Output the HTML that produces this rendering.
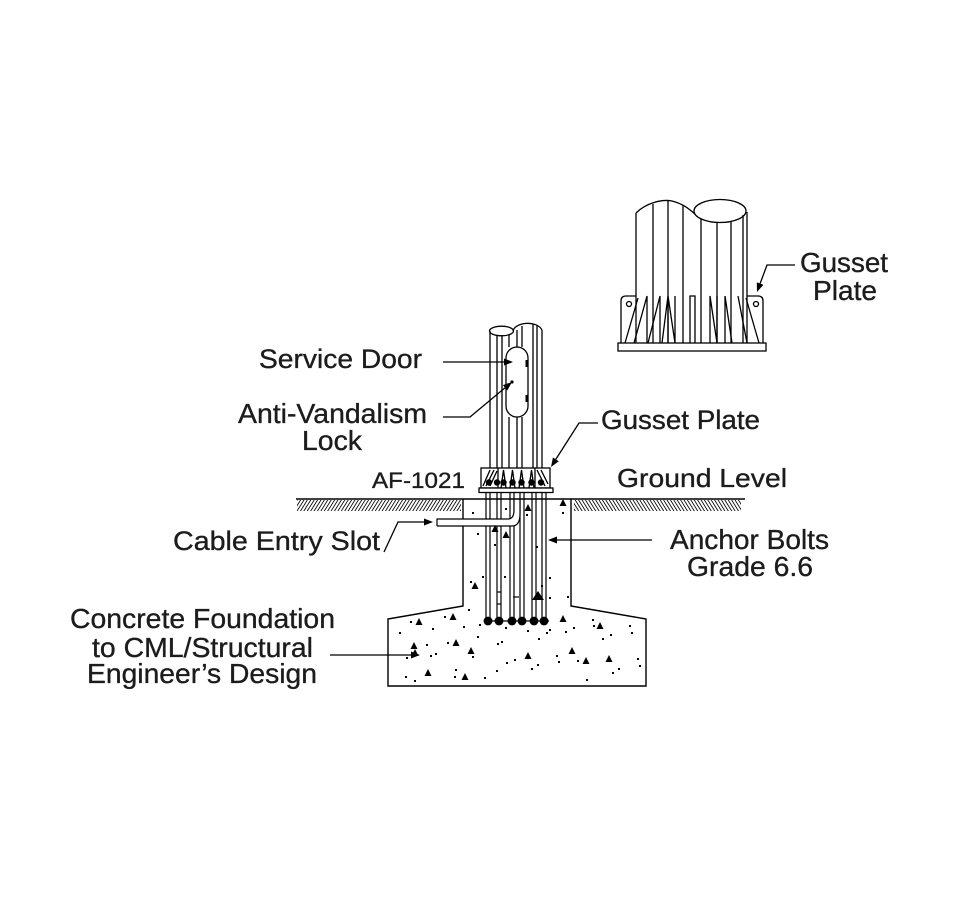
<!DOCTYPE html>
<html><head><meta charset="utf-8"><style>
html,body{margin:0;padding:0;background:#fff;}
svg{display:block;}
text{font-family:"Liberation Sans",Arial,sans-serif;fill:#1c1c1c;stroke:#1c1c1c;stroke-width:0.35;}
</style></head><body>
<svg width="971" height="908" viewBox="0 0 971 908" xmlns="http://www.w3.org/2000/svg">
<defs>
<pattern id="hl" width="3.4" height="12" patternUnits="userSpaceOnUse" patternTransform="skewX(-32)">
<line x1="1" y1="0" x2="1" y2="12" stroke="#000" stroke-width="1"/>
</pattern>
<pattern id="hr" width="3.4" height="12" patternUnits="userSpaceOnUse" patternTransform="skewX(32)">
<line x1="1" y1="0" x2="1" y2="12" stroke="#000" stroke-width="1"/>
</pattern>
</defs>
<rect width="971" height="908" fill="#fff"/>

<!-- ===== Top-right gusset detail ===== -->
<g stroke="#000" stroke-width="1.3" fill="none">
<line x1="636" y1="213" x2="636" y2="343"/>
<line x1="747" y1="212" x2="747" y2="343"/>
<path d="M636,213 C646,203 662,199 672,201 C684,204 690,210 695,214"/>
<ellipse cx="720" cy="211" rx="26" ry="11.5"/>
<line x1="653" y1="204" x2="653" y2="343"/>
<line x1="668" y1="201" x2="668" y2="343"/>
<line x1="683" y1="205" x2="683" y2="343"/>
<line x1="701" y1="219" x2="701" y2="343"/>
<line x1="717" y1="222" x2="717" y2="343"/>
<line x1="731" y1="221" x2="731" y2="343"/>
<line x1="743" y1="215" x2="743" y2="343"/>
<rect x="618" y="343" width="148" height="8"/>
<!-- left gusset -->
<path d="M621,343 L621,301 Q621,296 626,296 L636,296"/>
<line x1="625" y1="343" x2="638" y2="298"/>
<circle cx="629" cy="304" r="2.5"/>
<!-- right gusset -->
<path d="M763,343 L763,301 Q763,296 758,296 L747,296"/>
<line x1="759" y1="343" x2="746" y2="298"/>
<circle cx="756" cy="304" r="2.5"/>
<!-- fins -->
<path d="M634,343 L647,296 L647,343"/>
<path d="M648,343 L660,296 L660,343"/>
<path d="M662,343 L668,296 L668,343 M668,296 L675,343 L675,296"/>
<path d="M690,343 L690,296 L695,296 L695,343"/>
<path d="M710,343 L710,296 L717,343 L717,296"/>
<path d="M725,296 L732,343 M725,296 L725,343"/>
<path d="M738,296 L747,343"/>
<!-- leader -->
<polyline points="795,265 767,265 760.1,283.6"/>
</g>
<polygon points="757,292 763.4,284.8 756.8,282.4" fill="#000"/>
<text x="800" y="272" font-size="28" textLength="88" lengthAdjust="spacingAndGlyphs">Gusset</text>
<text x="813" y="300" font-size="28" textLength="64" lengthAdjust="spacingAndGlyphs">Plate</text>

<!-- ===== Ground ===== -->
<rect x="297" y="500" width="164" height="11" fill="url(#hl)"/>
<rect x="574" y="500" width="167" height="11" fill="url(#hr)"/>
<rect x="463" y="499" width="108" height="14" fill="#fff"/>
<line x1="296" y1="499" x2="745" y2="499" stroke="#000" stroke-width="1.4"/>

<!-- ===== Foundation ===== -->
<path d="M463,499 L463,606 L388,619 L388,686 L646,686 L646,619 L571,606 L571,499" fill="none" stroke="#000" stroke-width="1.4"/>

<!-- bolts -->
<g stroke="#000" stroke-width="1.2" fill="none">
<line x1="486" y1="493" x2="486" y2="620"/><line x1="490" y1="493" x2="490" y2="620"/>
<line x1="497" y1="493" x2="497" y2="620"/><line x1="501" y1="493" x2="501" y2="620"/>
<line x1="510" y1="493" x2="510" y2="620"/><line x1="514" y1="493" x2="514" y2="620"/>
<line x1="520" y1="493" x2="520" y2="620"/><line x1="524" y1="493" x2="524" y2="620"/>
<line x1="532" y1="493" x2="532" y2="620"/><line x1="536" y1="493" x2="536" y2="620"/>
<line x1="542" y1="493" x2="542" y2="620"/><line x1="546" y1="493" x2="546" y2="620"/>
<line x1="484" y1="621" x2="549" y2="621"/>
<line x1="497" y1="592" x2="501" y2="592"/><line x1="497" y1="604" x2="501" y2="604"/>
<line x1="513" y1="597" x2="519" y2="597"/>
</g>
<g fill="#000">
<circle cx="488" cy="621" r="4.4"/><circle cx="499" cy="621" r="4.4"/><circle cx="512" cy="621" r="4.4"/>
<circle cx="522" cy="621" r="4.4"/><circle cx="534" cy="621" r="4.4"/><circle cx="544" cy="621" r="4.4"/>
</g>

<!-- cable slot -->
<path d="M437,519 L508,519 Q514,519 514,512 L514,500 L520,500 L520,514 Q520,526 512,526 L437,526 Z" fill="#fff" stroke="none"/>
<g stroke="#000" stroke-width="1.2" fill="none">
<path d="M437,526 L437,519 L508,519 Q514,519 514,510 L514,500"/>
<path d="M437,526 L512,526 Q520,526 520,514 L520,500"/>
</g>

<!-- speckles: triangles -->
<g fill="#000">
<polygon points="563,499 559.5,506 566.5,506"/>
<polygon points="528,504 524.5,511 531.5,511"/>
<polygon points="495,525 491.5,532 498.5,532"/>
<polygon points="506,531 502.5,538 509.5,538"/>
<polygon points="475,582 471.5,589 478.5,589"/>
<polygon points="538,591 532,600 544,600"/>
<polygon points="419,618 415.5,625 422.5,625"/>
<polygon points="453,613 449.5,620 456.5,620"/>
<polygon points="563,615 559.5,622 566.5,622"/>
<polygon points="600,622 596.5,629 603.5,629"/>
<polygon points="414,642 410.5,649 417.5,649"/>
<polygon points="415,649 411.5,656 418.5,656"/>
<polygon points="456,639 452.5,646 459.5,646"/>
<polygon points="471,647 467.5,654 474.5,654"/>
<polygon points="528,652 524.5,659 531.5,659"/>
<polygon points="572,647 568.5,654 575.5,654"/>
<polygon points="586,657 582.5,664 589.5,664"/>
<polygon points="609,655 605.5,662 612.5,662"/>
<polygon points="428,669 424.5,676 431.5,676"/>
<polygon points="465,673 461.5,680 468.5,680"/>
</g>
<!-- speckles: dots -->
<g fill="#000">
<rect x="472" y="512" width="2" height="2"/><rect x="562" y="512" width="2" height="2"/>
<rect x="505" y="508" width="2" height="2"/><rect x="526" y="514" width="2" height="2"/>
<rect x="477" y="533" width="2" height="2"/><rect x="494" y="544" width="2" height="2"/>
<rect x="536" y="546" width="2" height="2"/><rect x="482" y="576" width="2" height="2"/>
<rect x="504" y="576" width="2" height="2"/><rect x="549" y="577" width="2" height="2"/>
<rect x="470" y="581" width="2" height="2"/><rect x="541" y="585" width="2" height="2"/>
<rect x="567" y="596" width="2" height="2"/><rect x="549" y="597" width="2" height="2"/>
<rect x="468" y="609" width="2" height="2"/><rect x="410" y="621" width="2" height="2"/>
<rect x="432" y="628" width="2" height="2"/><rect x="444" y="616" width="2" height="2"/>
<rect x="463" y="626" width="2" height="2"/><rect x="479" y="624" width="2" height="2"/>
<rect x="592" y="619" width="2" height="2"/><rect x="593" y="625" width="2" height="2"/>
<rect x="629" y="625" width="2" height="2"/><rect x="631" y="632" width="2" height="2"/>
<rect x="399" y="632" width="2" height="2"/><rect x="505" y="627" width="2" height="2"/>
<rect x="527" y="630" width="2" height="2"/><rect x="549" y="629" width="2" height="2"/>
<rect x="546" y="632" width="2" height="2"/><rect x="565" y="631" width="2" height="2"/>
<rect x="573" y="627" width="2" height="2"/><rect x="426" y="644" width="2" height="2"/>
<rect x="406" y="657" width="2" height="2"/><rect x="430" y="655" width="2" height="2"/>
<rect x="435" y="653" width="2" height="2"/><rect x="447" y="642" width="2" height="2"/>
<rect x="477" y="636" width="2" height="2"/><rect x="497" y="643" width="2" height="2"/>
<rect x="501" y="641" width="2" height="2"/><rect x="538" y="638" width="2" height="2"/>
<rect x="602" y="638" width="2" height="2"/><rect x="610" y="634" width="2" height="2"/>
<rect x="472" y="656" width="2" height="2"/><rect x="506" y="662" width="2" height="2"/>
<rect x="514" y="659" width="2" height="2"/><rect x="556" y="655" width="2" height="2"/>
<rect x="558" y="661" width="2" height="2"/><rect x="577" y="660" width="2" height="2"/>
<rect x="637" y="658" width="2" height="2"/><rect x="639" y="665" width="2" height="2"/>
<rect x="618" y="668" width="2" height="2"/><rect x="612" y="672" width="2" height="2"/>
<rect x="531" y="668" width="2" height="2"/><rect x="537" y="664" width="2" height="2"/>
<rect x="496" y="670" width="2" height="2"/><rect x="455" y="669" width="2" height="2"/>
<rect x="454" y="676" width="2" height="2"/><rect x="405" y="676" width="2" height="2"/>
<rect x="414" y="680" width="2" height="2"/><rect x="484" y="677" width="2" height="2"/>
<rect x="586" y="679" width="2" height="2"/>
</g>

<!-- ===== Main pole ===== -->
<g stroke="#000" stroke-width="1.3" fill="none">
<line x1="490" y1="331" x2="490" y2="468"/>
<line x1="542" y1="330" x2="542" y2="468"/>
<ellipse cx="501.5" cy="331" rx="12" ry="4.8"/>
<path d="M513,331 C515,322 537,320 542,330"/>
<line x1="497" y1="335" x2="497" y2="468"/>
<line x1="502" y1="335" x2="502" y2="468"/>
<line x1="509" y1="334" x2="509" y2="347"/><line x1="509" y1="417" x2="509" y2="468"/>
<line x1="517" y1="330" x2="517" y2="347"/><line x1="517" y1="417" x2="517" y2="468"/>
<line x1="522" y1="326" x2="522" y2="347"/><line x1="522" y1="417" x2="522" y2="468"/>
<line x1="533" y1="324" x2="533" y2="468"/>
<line x1="537" y1="325" x2="537" y2="468"/>
<rect x="506" y="347" width="22" height="70" rx="11" ry="11" fill="#fff"/>
</g>
<g fill="#000">
<rect x="525.5" y="360" width="3" height="7"/>
<rect x="525.5" y="395" width="3" height="7"/>
<circle cx="512" cy="382" r="1.6"/>
</g>

<!-- gusset box at base -->
<g stroke="#000" stroke-width="1.3" fill="none">
<rect x="481" y="468" width="69" height="20" fill="#fff"/>
<line x1="498" y1="468" x2="498" y2="488"/>
<line x1="535" y1="468" x2="535" y2="488"/>
<line x1="483" y1="486" x2="490" y2="470"/>
<line x1="486" y1="486" x2="494" y2="470"/>
<line x1="490" y1="486" x2="497" y2="471"/>
<line x1="537" y1="470" x2="545" y2="486"/>
<line x1="541" y1="470" x2="548" y2="484"/>
<path d="M501,488 L503.5,470 L506,488"/>
<path d="M510,488 L512.5,470 L515,488"/>
<path d="M519,488 L521.5,470 L524,488"/>
<path d="M529,488 L531.5,470 L534,488"/>
<rect x="479" y="488" width="74" height="4.5" fill="#fff"/>
</g>
<g fill="#000">
<circle cx="489" cy="482.5" r="3.2"/><circle cx="497" cy="482.5" r="3.2"/>
<circle cx="503.5" cy="482.5" r="3.2"/><circle cx="512.5" cy="482.5" r="3.2"/>
<circle cx="521.5" cy="482.5" r="3.2"/><circle cx="531.5" cy="482.5" r="3.2"/>
<circle cx="541" cy="482.5" r="3.2"/>
</g>

<!-- ===== Leaders ===== -->
<g stroke="#000" stroke-width="1.3" fill="none">
<line x1="443" y1="362" x2="505" y2="362"/>
<polyline points="443,417 470,417 505.1,387.8"/>
<polyline points="598,423 579,423 555.8,459.4"/>
<polyline points="384,552 398,522 425,522"/>
<line x1="652" y1="540" x2="556" y2="540"/>
<line x1="330" y1="655" x2="412" y2="655"/>
</g>
<g fill="#000">
<polygon points="513,362 504,358.5 504,365.5"/>
<polygon points="512,382 507.3,390.5 502.9,385.1"/>
<polygon points="551,467 558.8,461.3 552.9,457.5"/>
<polygon points="433,522 424,518.5 424,525.5"/>
<polygon points="548,540 557,536.5 557,543.5"/>
<polygon points="420,655 411,651.5 411,658.5"/>
</g>

<!-- ===== Labels ===== -->
<text x="259" y="368" font-size="27" textLength="163" lengthAdjust="spacingAndGlyphs">Service Door</text>
<text x="238" y="423" font-size="28" textLength="189" lengthAdjust="spacingAndGlyphs">Anti-Vandalism</text>
<text x="302" y="450" font-size="28" textLength="60" lengthAdjust="spacingAndGlyphs">Lock</text>
<text x="601" y="429" font-size="27" textLength="159" lengthAdjust="spacingAndGlyphs">Gusset Plate</text>
<text x="372" y="488" font-size="22" textLength="93" lengthAdjust="spacingAndGlyphs">AF-1021</text>
<text x="617" y="487" font-size="26" textLength="170" lengthAdjust="spacingAndGlyphs">Ground Level</text>
<text x="173" y="550" font-size="27" textLength="207" lengthAdjust="spacingAndGlyphs">Cable Entry Slot</text>
<text x="670" y="549" font-size="28" textLength="159" lengthAdjust="spacingAndGlyphs">Anchor Bolts</text>
<text x="687" y="576" font-size="28" textLength="126" lengthAdjust="spacingAndGlyphs">Grade 6.6</text>
<text x="70" y="628" font-size="28" textLength="265" lengthAdjust="spacingAndGlyphs">Concrete Foundation</text>
<text x="92" y="657" font-size="28" textLength="221" lengthAdjust="spacingAndGlyphs">to CML/Structural</text>
<text x="87" y="683" font-size="28" textLength="230" lengthAdjust="spacingAndGlyphs">Engineer’s Design</text>
</svg>
</body></html>
